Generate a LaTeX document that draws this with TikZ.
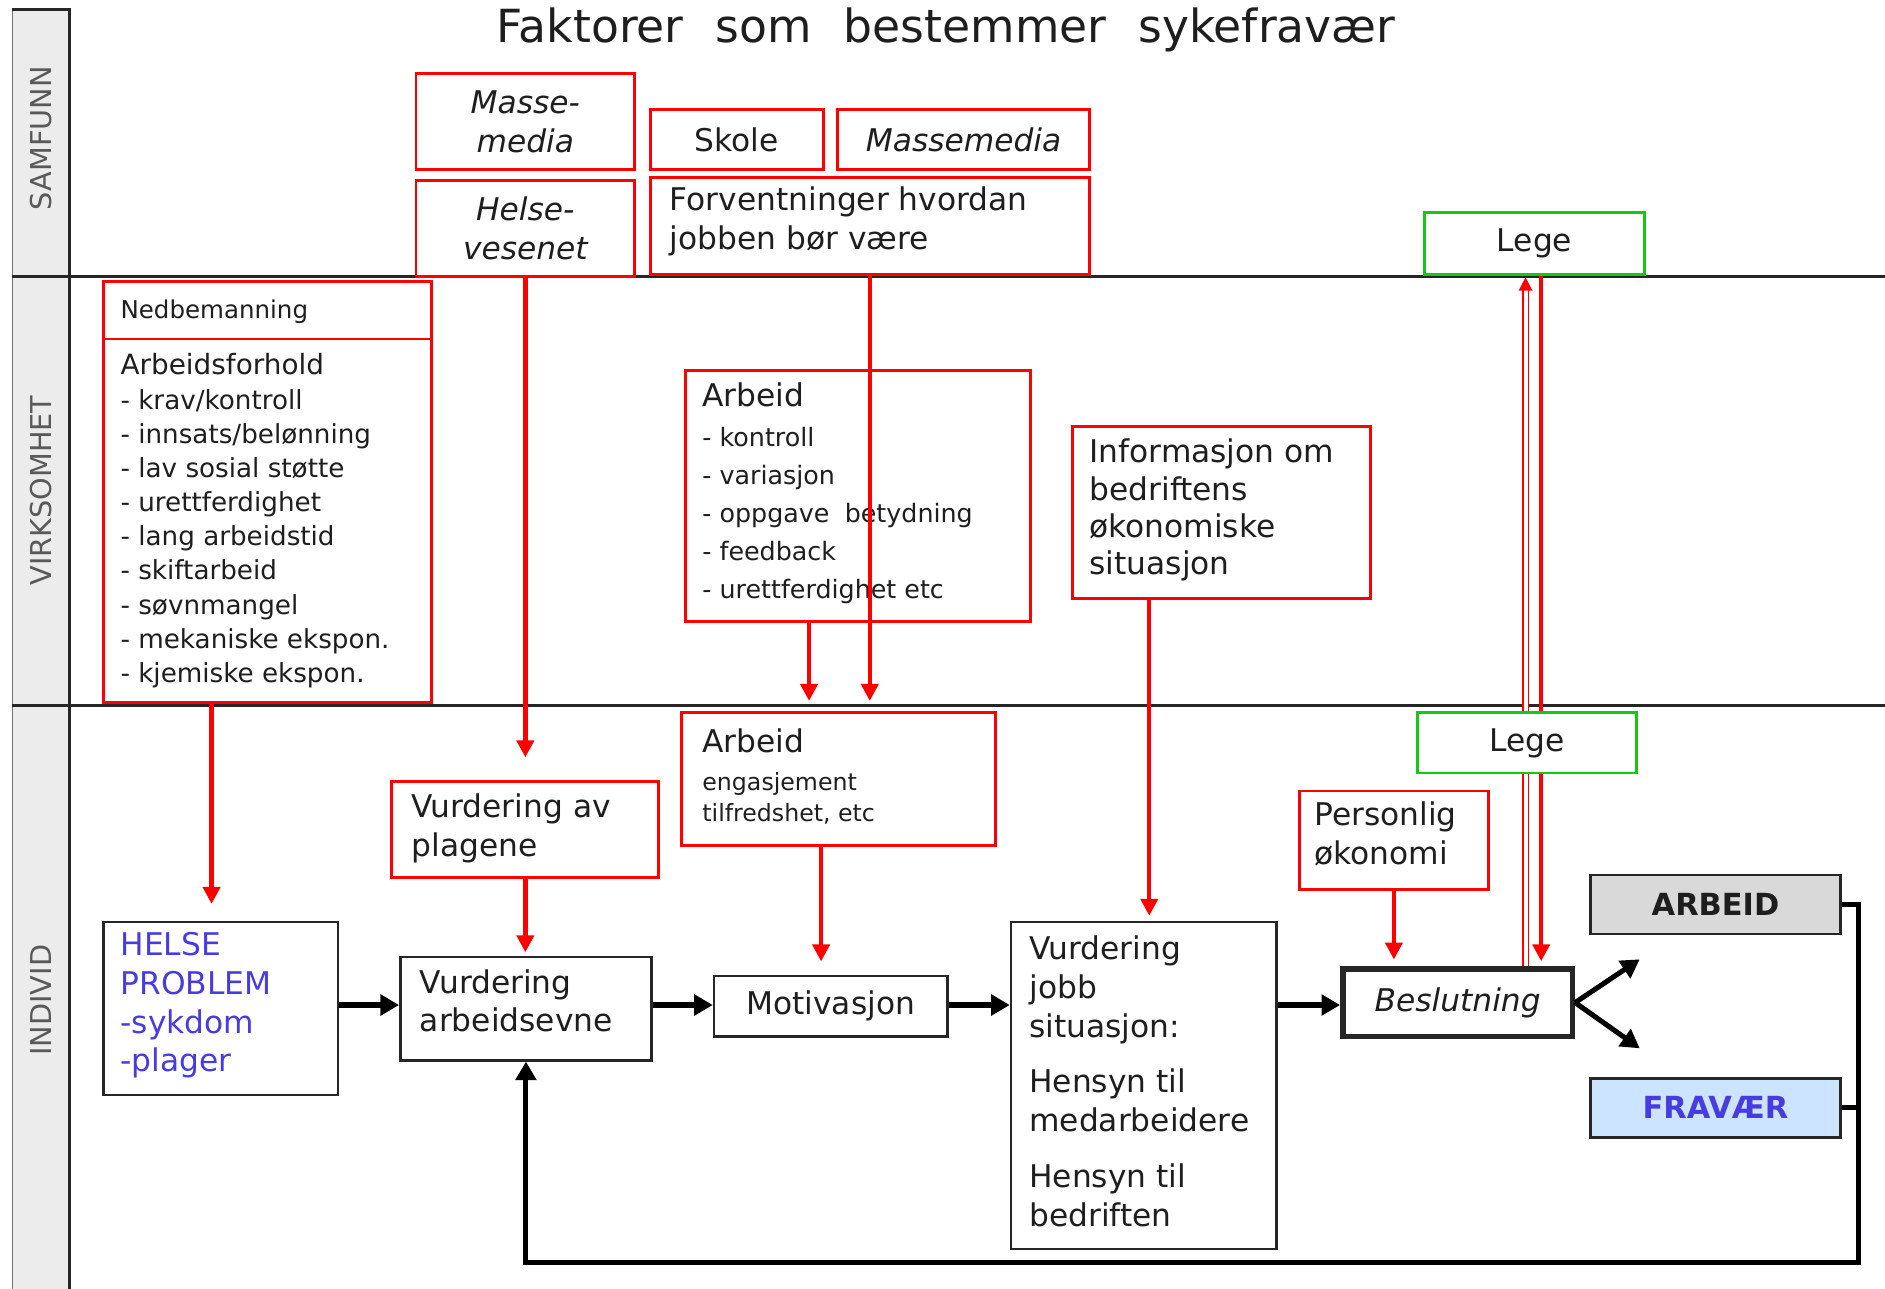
\documentclass[tikz,border=0pt]{standalone}
\usepackage{fontspec}
\setmainfont{DejaVu Sans}
\usetikzlibrary{arrows.meta,fit,calc}
\definecolor{myred}{RGB}{255,0,0}
\definecolor{mygreen}{RGB}{20,200,20}
\definecolor{myblue}{RGB}{70,60,225}
\definecolor{lanegray}{RGB}{236,236,236}
\definecolor{arbgray}{RGB}{217,217,217}
\definecolor{fravblue}{RGB}{204,228,255}
\definecolor{txtcol}{RGB}{30,30,30}
\begin{document}
\begin{tikzpicture}[x=0.025cm,y=-0.025cm,
  every node/.style={text=txtcol},
  rb/.style={draw=myred,line width=1.7pt,fill=white,inner sep=0pt},
  gbx/.style={draw=mygreen,line width=1.7pt,fill=white,inner sep=0pt},
  kbx/.style={draw=black!85,line width=1.5pt,fill=white,inner sep=0pt},
  mainf/.style={font=\fontsize{18.5}{23}\selectfont},
  mainit/.style={font=\fontsize{18.5}{23}\selectfont\itshape},
  ctr/.style={inner sep=0pt,align=center},
  txt/.style={anchor=north west,align=left,inner sep=0pt,mainf},
  lane/.style={rotate=90,font=\fontsize{17}{20}\selectfont,text=black!65},
  ra/.style={draw=myred,line width=2.6pt,-{Triangle[length=10pt,width=10pt]}},
  ka/.style={draw=black,line width=3pt,-{Triangle[length=11pt,width=12pt]}},
  kl/.style={draw=black,line width=3pt},
]
\useasboundingbox (0,0) rectangle (1568,1072);

% lanes
\fill[lanegray] (10,8) rectangle (58,1072);
\draw[black!55,line width=0.6pt] (10,1072) -- (10,8);
\draw[black!85,line width=2pt] (10,8) -- (58,8) -- (58,1072);
\draw[black!85,line width=1.6pt] (10,230) -- (1568,230);
\draw[black!85,line width=1.6pt] (10,587) -- (1568,587);
\node[lane] (lsam) at (34,115) {SAMFUNN};
\node[lane] (lvir) at (34,408) {VIRKSOMHET};
\node[lane] (lind) at (34,832) {INDIVID};

% title
\node[font=\fontsize{27}{32}\selectfont] (title) at (787,25) {Faktorer\hspace{0.7em}som\hspace{0.7em}bestemmer\hspace{0.7em}sykefravær};

% guides
\coordinate (gA) at (176,0);
\coordinate (gB) at (673,0);
\coordinate (gC) at (683,0);
\coordinate (gD) at (956,0);
\coordinate (gU) at (1269,0);
\coordinate (gV) at (1282,0);
\coordinate (gy) at (0,836);
\coordinate (e1) at (437,630);
\coordinate (e2) at (723.5,583);
\coordinate (e3) at (673,583);
\coordinate (b1) at (1364,798);
\coordinate (b2) at (1364,872);
\coordinate (fbR) at (1546,1050);

% nodes needed for the Lege lines
\node[gbx,fit={(1185,177) (1368,228)}] (lege1) {};
\node[ctr,mainf] (lege1t) at (lege1) {Lege};
\node[kbx,line width=3.2pt,fit={(1117,806) (1308,862)}] (besl) {};
\node[ctr,mainit] (beslt) at (besl) {Beslutning};

% Lege lines (under lower Lege box)
\draw[myred,line width=0.9pt,double=white,double distance=2.4pt,-{Triangle[length=8pt,width=8pt]}] (besl.north -| gU) -- ([yshift=-1pt]lege1.south -| gU);
\draw[ra,shorten >=3pt] (lege1.south -| gV) -- (besl.north -| gV);

% SAMFUNN boxes
\node[rb,fit={(346,61) (528,141)}] (mm1) {};
\node[ctr,mainit] (mm1t) at (mm1) {Masse-\\media};
\node[rb,fit={(346,150) (528,230)}] (hv) {};
\node[ctr,mainit] (hvt) at (hv) {Helse-\\vesenet};
\node[rb,fit={(541,91) (685,141)}] (skole) {};
\node[ctr,mainf] (skolet) at (skole) {Skole};
\node[rb,fit={(697,91) (906,141)}] (mm2) {};
\node[ctr,mainit] (mm2t) at (mm2) {Massemedia};
\node[rb,fit={(541,148) (906,228)}] (forv) {};
\node[txt] (forvt) at (557,155) {Forventninger hvordan\\jobben bør være};

% VIRKSOMHET boxes
\node[rb,fit={(86,234) (359,282)}] (ned) {};
\node[txt,font=\fontsize{14.5}{18}\selectfont] (nedt) at (100,249) {Nedbemanning};
\node[rb,fit={(86,282) (359,584)}] (arb1) {};
\node[txt,font=\fontsize{15.5}{20.2}\selectfont] (arb1t) at (100,294) {{\fontsize{16.5}{20}\selectfont Arbeidsforhold}\\- krav/kontroll\\- innsats/belønning\\- lav sosial støtte\\- urettferdighet\\- lang arbeidstid\\- skiftarbeid\\- søvnmangel\\- mekaniske ekspon.\\- kjemiske ekspon.};
\node[rb,fit={(570,308) (857,517)}] (arb2) {};
\node[txt,font=\fontsize{15}{22.5}\selectfont] (arb2t) at (584,318) {{\fontsize{18.5}{23}\selectfont Arbeid}\\[1pt]- kontroll\\- variasjon\\- oppgave\hspace{0.6em}betydning\\- feedback\\- urettferdighet etc};
\node[rb,fit={(892,355) (1140,498)}] (info) {};
\node[txt,font=\fontsize{18.5}{22}\selectfont] (infot) at (906,365) {Informasjon om\\bedriftens\\økonomiske\\situasjon};

% INDIVID boxes
\node[gbx,fit={(1179,593) (1361,643)}] (lege2) {};
\node[ctr,mainf] (lege2t) at (lege2) {Lege};
\node[rb,fit={(326,650) (548,730)}] (vplag) {};
\node[txt] (vplagt) at (342,660) {Vurdering av\\plagene};
\node[rb,fit={(567,593) (828,703)}] (arbeng) {};
\node[txt,font=\fontsize{14}{18.4}\selectfont] (arbengt) at (584,606) {{\fontsize{18.5}{23}\selectfont Arbeid}\\[4pt]engasjement\\tilfredshet, etc};
\node[rb,fit={(1081,658) (1238,740)}] (pers) {};
\node[txt] (perst) at (1093,667) {Personlig\\økonomi};

\node[kbx,fit={(86,767) (281,911)}] (helse) {};
\node[txt,text=myblue] (helset) at (100,775) {HELSE\\PROBLEM\\-sykdom\\-plager};
\node[kbx,fit={(333,796) (542,882)}] (varb) {};
\node[txt] (varbt) at (349,806) {Vurdering\\arbeidsevne};
\node[kbx,fit={(594,812) (788,862)}] (motiv) {};
\node[ctr,mainf] (motivt) at (motiv) {Motivasjon};
\node[kbx,fit={(841,767) (1062,1039)}] (vjobb) {};
\node[txt] (vjobbt) at (856,778) {Vurdering\\jobb\\situasjon:\\[10pt]Hensyn til\\medarbeidere\\[10pt]Hensyn til\\bedriften};
\node[kbx,fill=arbgray,fit={(1323,728) (1531,777)}] (arbeid) {};
\node[ctr,font=\fontsize{18}{22}\selectfont\bfseries] (arbeidt) at (arbeid) {ARBEID};
\node[kbx,fill=fravblue,fit={(1323,897) (1531,946)}] (frav) {};
\node[ctr,font=\fontsize{18}{22}\selectfont\bfseries,text=myblue] (fravt) at (frav) {FRAVÆR};

% red arrows
\draw[ra] (hv.south) -- (e1);
\draw[ra] (forv.south) -- (e2);
\draw[ra] (arb2.south -| gB) -- (e3);
\draw[ra,shorten >=10pt] (arb1.south -| gA) -- (helse.north -| gA);
\draw[ra,shorten >=2pt] (vplag.south) -- (vplag.south |- varb.north);
\draw[ra,shorten >=8pt] (arbeng.south -| gC) -- (motiv.north -| gC);
\draw[ra,shorten >=3pt] (info.south -| gD) -- (vjobb.north -| gD);
\draw[ra,shorten >=4pt] (pers.south) -- (pers.south |- besl.north);

% black arrows
\draw[ka] (helse.east |- gy) -- (varb.west |- gy);
\draw[ka] (varb.east |- gy) -- (motiv.west |- gy);
\draw[ka] (motiv.east |- gy) -- (vjobb.west |- gy);
\draw[ka] (vjobb.east |- gy) -- (besl.west |- gy);
\draw[ka] (besl.east) -- (b1);
\draw[ka] (besl.east) -- (b2);
\draw[ka] (arbeid.east) -| (fbR) -| (varb.south);
\draw[kl] (frav.east) -- (frav.east -| fbR);
\end{tikzpicture}
\end{document}
